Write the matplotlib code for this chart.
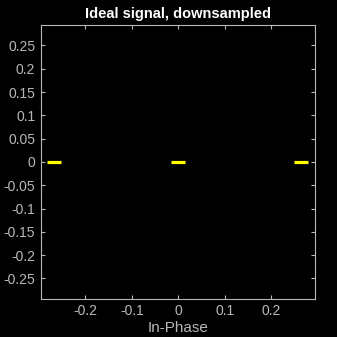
import numpy as np
import matplotlib.pyplot as plt

# constellation points (in-phase, quadrature)
in_phase = [-0.267, 0.0, 0.264]
quadrature = [0.0, 0.0, 0.0]
xticks = [-0.2, -0.1, 0, 0.1, 0.2]
xticklabels = ["-0.2", "-0.1", "0", "0.1", "0.2"]
yticks = [-0.25, -0.2, -0.15, -0.1, -0.05, 0, 0.05, 0.1, 0.15, 0.2, 0.25]
yticklabels = ["-0.25", "-0.2", "-0.15", "-0.1", "-0.05", "0", "0.05", "0.1", "0.15", "0.2", "0.25"]

plt.rcParams['font.family'] = ['Liberation Sans', 'DejaVu Sans']
grey = "#b8b8b8"

fig = plt.figure(figsize=(3.37, 3.37), dpi=100, facecolor="black")
ax = fig.add_axes([0.121, 0.113, 0.814, 0.813], facecolor="black")

ax.plot(in_phase, quadrature, linestyle="none", marker="_", markersize=10,
        markeredgewidth=2.3, color="#ffff00")

ax.set_xlim(-0.296, 0.294)
ax.set_ylim(-0.294, 0.294)
ax.set_xticks(xticks)
ax.set_xticklabels(xticklabels)
ax.set_yticks(yticks)
ax.set_yticklabels(yticklabels)
ax.tick_params(direction="in", length=3, width=0.8, colors=grey, labelsize=10,
               top=True, right=True, pad=4)
for s in ax.spines.values():
    s.set_color(grey)
    s.set_linewidth(0.8)

ax.set_title("Ideal signal, downsampled", color="white", fontweight="bold",
             fontsize=10.5, pad=5)
ax.set_xlabel("In-Phase", color=grey, fontsize=11, labelpad=2)

fig.savefig("out.png", dpi=100, facecolor="black")
